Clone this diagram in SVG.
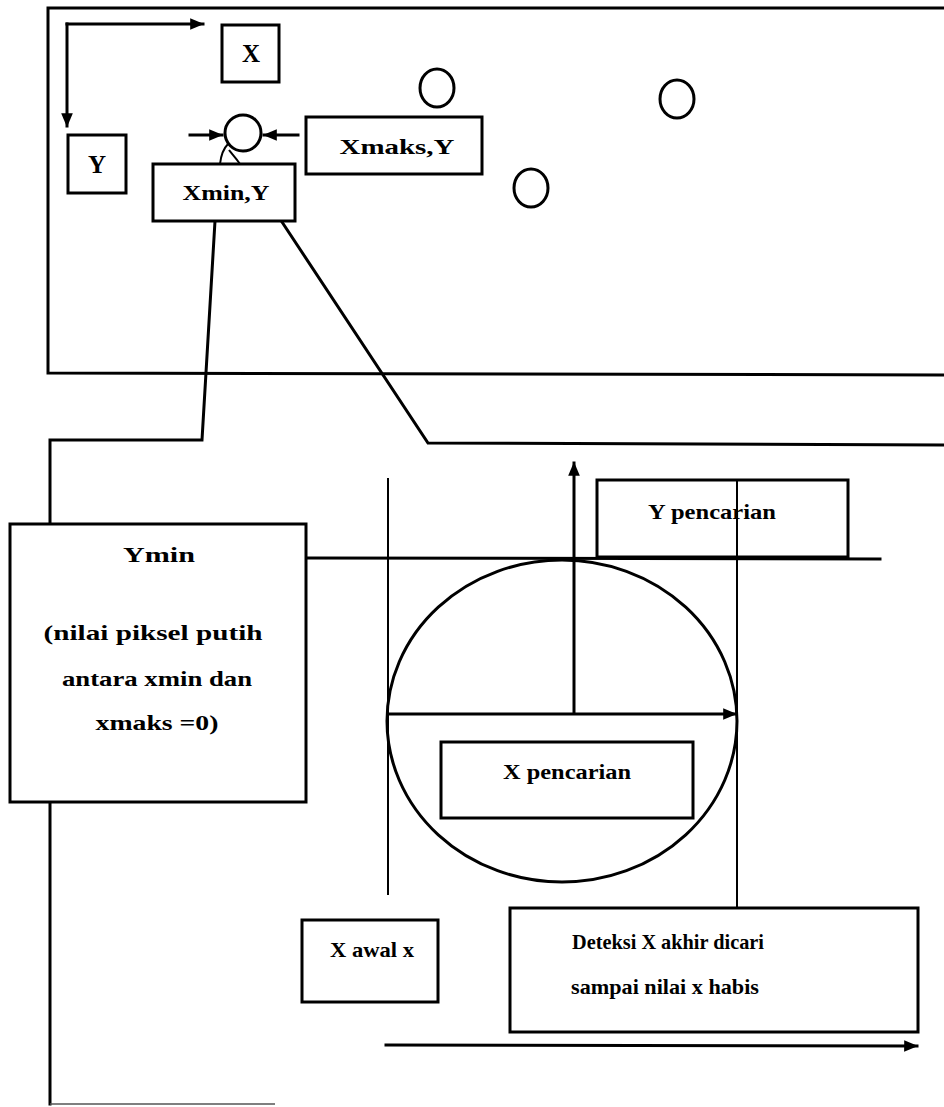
<svg xmlns="http://www.w3.org/2000/svg" width="944" height="1107" viewBox="0 0 944 1107">
<defs>
<marker id="ah" viewBox="0 0 12 10" refX="11" refY="5" markerWidth="14" markerHeight="12" markerUnits="userSpaceOnUse" orient="auto">
<path d="M0,0 L12,5 L0,10 Z" fill="#000"/>
</marker>
<style>
.ln{stroke:#000;stroke-width:3;fill:none;stroke-linecap:square}
.thin{stroke:#000;stroke-width:2;fill:none}
.box{fill:#fff;stroke:#000;stroke-width:3}
.t{font-family:'Liberation Serif','DejaVu Serif','Times New Roman',serif;font-weight:bold;font-size:21px;fill:#000;text-anchor:middle}
.big{font-size:25px}
.circ{fill:none;stroke:#000;stroke-width:3}
</style>
</defs>
<rect width="944" height="1107" fill="#fff"/>
<g id="frames">
<path class="ln" d="M944,8 L48,8 L48,373 L944,375"/>
</g>
<g id="connectors">
<path class="ln" d="M67,24 L203,24" marker-end="url(#ah)"/>
<path class="ln" d="M67,24 L67,126" marker-end="url(#ah)"/>
<path class="ln" d="M190,135 L222,135" marker-end="url(#ah)"/>
<path class="ln" d="M298,135 L264,135" marker-end="url(#ah)"/>
<path class="thin" d="M220,164 C221,155 224,148 228,144"/>
<path class="thin" d="M240,164 C236,158 232,154 229,150"/>
<path class="ln" d="M215,221 L202,440 L50,440 L50,523"/>
<path class="ln" d="M282,222 L428,443 L944,445"/>
<path class="ln" d="M50,802 L50,1104"/>
<path d="M50,1104 L275,1104" stroke="#555" stroke-width="1.5" fill="none"/>
<path class="thin" d="M123,688 L123,718"/>
<path class="ln" d="M306,558 L880,559"/>
<path class="thin" d="M388,478 L388,895"/>
<path class="thin" d="M737,480 L737,908"/>
<path class="ln" d="M574,713 L574,463" marker-end="url(#ah)"/>
<path class="ln" d="M388,714 L736,714" marker-end="url(#ah)"/>
<path class="ln" d="M386,1045 L917,1046" marker-end="url(#ah)"/>
</g>
<g id="circles">
<circle class="circ" cx="243" cy="133" r="18"/>
<ellipse class="circ" cx="437" cy="88" rx="17" ry="19"/>
<ellipse class="circ" cx="677" cy="99" rx="17" ry="19"/>
<ellipse class="circ" cx="531" cy="188" rx="17" ry="19"/>
<ellipse class="circ" cx="562" cy="721" rx="175" ry="161"/>
</g>
<g id="node-x">
<rect class="box" x="222" y="25" width="57" height="57"/>
<text class="t big" x="251" y="62">X</text>
</g>
<g id="node-y">
<rect class="box" x="68" y="135" width="58" height="58"/>
<text class="t big" x="97" y="173">Y</text>
</g>
<g id="node-xmin-y">
<rect class="box" x="153" y="164" width="142" height="57"/>
<text class="t" x="226" y="200" textLength="87" lengthAdjust="spacingAndGlyphs">Xmin,Y</text>
</g>
<g id="node-xmaks-y">
<rect class="box" x="306" y="117" width="176" height="57"/>
<text class="t" x="397" y="154" textLength="115" lengthAdjust="spacingAndGlyphs">Xmaks,Y</text>
</g>
<g id="node-ymin">
<rect class="box" x="10" y="524" width="296" height="278"/>
<text class="t" x="159" y="562" textLength="72" lengthAdjust="spacingAndGlyphs">Ymin</text>
<text class="t" x="153" y="640" textLength="219" lengthAdjust="spacingAndGlyphs">(nilai piksel putih</text>
<text class="t" x="157" y="686" textLength="190" lengthAdjust="spacingAndGlyphs">antara xmin dan</text>
<text class="t" x="157" y="730" textLength="123" lengthAdjust="spacingAndGlyphs">xmaks =0)</text>
</g>
<g id="node-y-pencarian">
<rect class="box" x="597" y="480" width="251" height="77"/>
<text class="t" x="712" y="519" textLength="128" lengthAdjust="spacingAndGlyphs">Y pencarian</text>
</g>
<g id="node-x-pencarian">
<rect class="box" x="441" y="742" width="252" height="76"/>
<text class="t" x="567" y="779" textLength="128" lengthAdjust="spacingAndGlyphs">X pencarian</text>
</g>
<g id="node-x-awal">
<rect class="box" x="302" y="920" width="136" height="82"/>
<text class="t" x="372" y="957" textLength="84" lengthAdjust="spacingAndGlyphs">X awal x</text>
</g>
<g id="node-deteksi">
<rect class="box" x="510" y="908" width="408" height="124"/>
<text class="t" x="668" y="949" style="font-size:22px" textLength="192" lengthAdjust="spacingAndGlyphs">Deteksi X akhir dicari</text>
<text class="t" x="665" y="994" style="font-size:22px" textLength="188" lengthAdjust="spacingAndGlyphs">sampai nilai x habis</text>
</g>
<path class="thin" d="M737,480 L737,557"/>
</svg>
